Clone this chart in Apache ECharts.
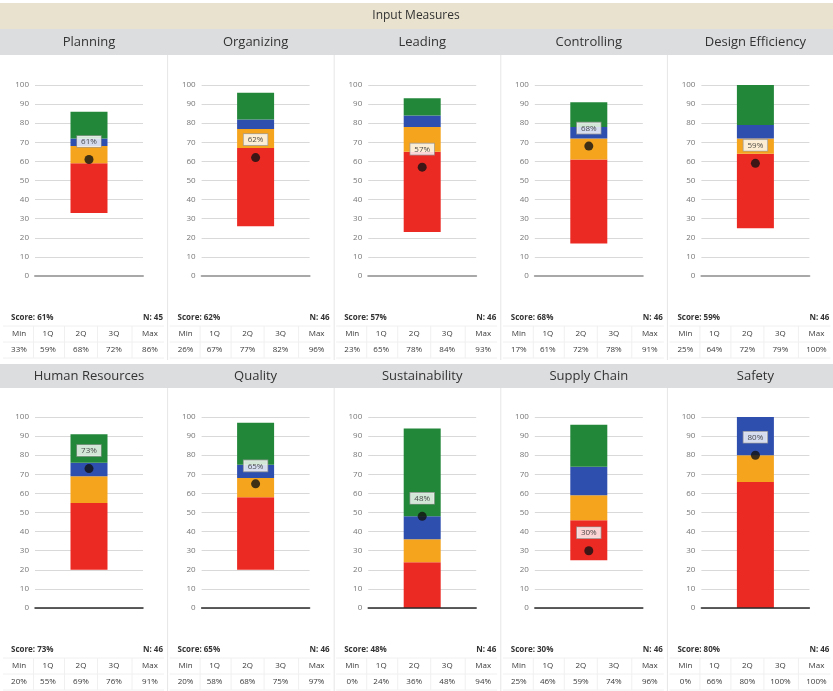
<!DOCTYPE html>
<html>
<head>
<meta charset="utf-8">
<script src="https://cdn.jsdelivr.net/npm/echarts@6/dist/echarts.min.js"></script>
<style>
  html, body { margin: 0; padding: 0; background: #fff; }
  #chart { width: 833px; height: 691px; }
</style>
</head>
<body>
<div id="chart"></div>
<script>
// Box summaries per measure: min, quartiles, max and the current score
const pageTitle = 'Input Measures';
const categories = ['Planning', 'Organizing', 'Leading', 'Controlling', 'Design Efficiency',
                    'Human Resources', 'Quality', 'Sustainability', 'Supply Chain', 'Safety'];
const minVals = [33, 26, 23, 17, 25, 20, 20, 0, 25, 0];
const q1Vals  = [59, 67, 65, 61, 64, 55, 58, 24, 46, 66];
const q2Vals  = [68, 77, 78, 72, 72, 69, 68, 36, 59, 80];
const q3Vals  = [72, 82, 84, 78, 79, 76, 75, 48, 74, 100];
const maxVals = [86, 96, 93, 91, 100, 91, 97, 94, 96, 100];
const scores  = [61, 62, 57, 68, 59, 73, 65, 48, 30, 80];
const counts  = [45, 46, 46, 46, 46, 46, 46, 46, 46, 46];
const statHeaders = ['Min', '1Q', '2Q', '3Q', 'Max'];

const FONT = '"Open Sans", "DejaVu Sans", sans-serif';
const PANEL_W = 833 / 5;
const SEG_COLORS = ['#ec2a24', '#f5a41e', '#2f4fae', '#23873a'];
const ROWS = [
  { bandY: 29,  bandH: 26, titleY: 42,  gridTop: 85,  statsY: 318, zero: { color: '#a8a8a8', width: 2 } },
  { bandY: 364, bandH: 24, titleY: 376, gridTop: 417, statsY: 650, zero: { color: '#2a2a2a', width: 1.5 } }
];
const STAT_X = [19, 48, 81, 114, 150];

const chart = echarts.init(document.getElementById('chart'));

const grids = [], xAxes = [], yAxes = [], series = [], graphics = [];

// header bands
graphics.push({ type: 'rect', shape: { x: 0, y: 3, width: 833, height: 26 }, style: { fill: '#e8e2ce' }, silent: true });
graphics.push({ type: 'text', x: 416, y: 16, style: { text: pageTitle, fontSize: 12, fontFamily: FONT, fill: '#333', align: 'center', verticalAlign: 'middle' } });
ROWS.forEach(r => {
  graphics.push({ type: 'rect', shape: { x: 0, y: r.bandY, width: 833, height: r.bandH }, style: { fill: '#dcdddf' }, silent: true });
});

categories.forEach((name, i) => {
  const row = ROWS[Math.floor(i / 5)];
  const col = i % 5;
  const x0 = col * PANEL_W;

  grids.push({ left: x0 + 35, top: row.gridTop, width: 108, height: 191 });
  xAxes.push({
    gridIndex: i, type: 'category', data: [name],
    axisLabel: { show: false }, axisTick: { show: false },
    axisLine: { show: true, lineStyle: { color: row.zero.color, width: row.zero.width } },
    z: 3
  });
  yAxes.push({
    gridIndex: i, type: 'value', min: 0, max: 100, interval: 10,
    axisLine: { show: false }, axisTick: { show: false },
    axisLabel: { fontSize: 8, color: '#777', margin: 6, fontFamily: FONT },
    splitLine: { lineStyle: { color: '#d9d9d9', width: 1 } }
  });

  const stack = 'box' + i;
  const segs = [minVals[i], q1Vals[i] - minVals[i], q2Vals[i] - q1Vals[i], q3Vals[i] - q2Vals[i], maxVals[i] - q3Vals[i]];
  segs.forEach((v, k) => {
    series.push({
      type: 'bar', xAxisIndex: i, yAxisIndex: i, stack, barWidth: 37,
      data: [v], silent: true,
      itemStyle: { color: k === 0 ? 'rgba(0,0,0,0)' : SEG_COLORS[k - 1] }
    });
  });
  series.push({
    type: 'scatter', xAxisIndex: i, yAxisIndex: i, z: 5,
    symbolSize: 9, itemStyle: { color: '#111' },
    data: [[0, scores[i]]],
    label: {
      show: true, position: 'top', distance: 8,
      formatter: p => p.value[1] + '%',
      fontSize: 8, color: '#222', fontFamily: FONT,
      backgroundColor: '#fff', borderColor: '#9a9a9a', borderWidth: 0.8,
      padding: [2, 4, 1, 4]
    }
  });

  // panel title
  graphics.push({ type: 'text', x: x0 + 89, y: row.titleY, style: { text: name, fontSize: 13, fontFamily: FONT, fill: '#333', align: 'center', verticalAlign: 'middle' } });

  // panel separator
  if (col > 0) {
    graphics.push({ type: 'line', shape: { x1: x0 + 1, y1: row.bandY + row.bandH, x2: x0 + 1, y2: row.statsY + 42 }, style: { stroke: '#e6e6e6', lineWidth: 1 }, silent: true });
  }

  // stats table
  const sy = row.statsY;
  graphics.push({ type: 'text', x: x0 + 11, y: sy, style: { text: 'Score: ' + scores[i] + '%', fontSize: 8, fontWeight: 'bold', fontFamily: FONT, fill: '#333', align: 'left', verticalAlign: 'middle' } });
  graphics.push({ type: 'text', x: x0 + 163, y: sy, style: { text: 'N: ' + counts[i], fontSize: 8, fontWeight: 'bold', fontFamily: FONT, fill: '#333', align: 'right', verticalAlign: 'middle' } });
  const vals = [minVals[i], q1Vals[i], q2Vals[i], q3Vals[i], maxVals[i]];
  statHeaders.forEach((h, k) => {
    graphics.push({ type: 'text', x: x0 + STAT_X[k], y: sy + 16, style: { text: h, fontSize: 8, fontFamily: FONT, fill: '#3a3a3a', align: 'center', verticalAlign: 'middle' } });
    graphics.push({ type: 'text', x: x0 + STAT_X[k], y: sy + 32, style: { text: vals[k] + '%', fontSize: 8, fontFamily: FONT, fill: '#3a3a3a', align: 'center', verticalAlign: 'middle' } });
    if (k > 0) {
      const bx = x0 + (STAT_X[k - 1] + STAT_X[k]) / 2;
      graphics.push({ type: 'line', shape: { x1: bx, y1: sy + 8, x2: bx, y2: sy + 40 }, style: { stroke: '#f0f0f0', lineWidth: 1 }, silent: true });
    }
  });
  [sy + 8, sy + 24, sy + 40].forEach(ly => {
    graphics.push({ type: 'line', shape: { x1: x0 + 3, y1: ly, x2: x0 + 164, y2: ly }, style: { stroke: '#f0f0f0', lineWidth: 1 }, silent: true });
  });
});

chart.setOption({
  animation: false,
  backgroundColor: '#fff',
  grid: grids,
  xAxis: xAxes,
  yAxis: yAxes,
  series: series,
  graphic: { elements: graphics }
});
</script>
</body>
</html>
